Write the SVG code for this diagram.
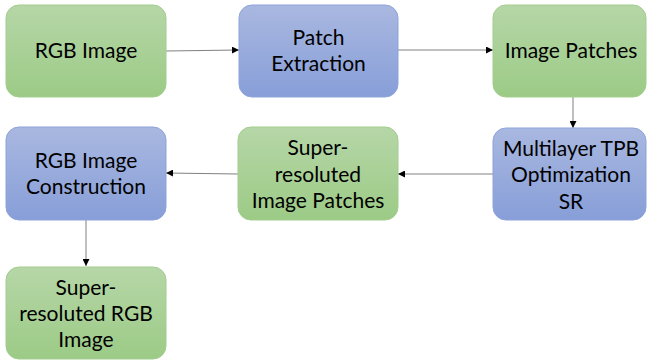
<svg xmlns="http://www.w3.org/2000/svg" width="648" height="363" viewBox="0 0 648 363">
  <defs>
    <linearGradient id="gGreen" x1="0" y1="0" x2="0" y2="1">
      <stop offset="0" stop-color="#b6d6a7"/>
      <stop offset="1" stop-color="#9ccb86"/>
    </linearGradient>
    <linearGradient id="gBlue" x1="0" y1="0" x2="0" y2="1">
      <stop offset="0" stop-color="#a9b8e0"/>
      <stop offset="1" stop-color="#879ed8"/>
    </linearGradient>
    <marker id="arrow" viewBox="0 0 10 10" refX="10" refY="5" markerWidth="7" markerHeight="7" markerUnits="userSpaceOnUse" orient="auto">
      <path d="M0,0 L10,5 L0,10 Z" fill="#000"/>
    </marker>
  </defs>
  <style>
    .green { fill: url(#gGreen); stroke: #a3cd8f; stroke-width: 1; }
    .blue { fill: url(#gBlue); stroke: #8ea3da; stroke-width: 1; }
    .label { font-family: "Lato", "Liberation Sans", sans-serif; font-size: 21px; fill: #000; text-anchor: middle; }
    .conn { stroke: #808080; stroke-width: 1; fill: none; marker-end: url(#arrow); }
  </style>
  <rect width="648" height="363" fill="#ffffff"/>

  <g id="connectors">
    <line class="conn" x1="166" y1="51" x2="239" y2="50"/>
    <line class="conn" x1="398" y1="50" x2="493" y2="50"/>
    <line class="conn" x1="573" y1="97" x2="573" y2="128"/>
    <line class="conn" x1="493" y1="174" x2="398" y2="174"/>
    <line class="conn" x1="238" y1="174" x2="166" y2="173"/>
    <line class="conn" x1="86" y1="220" x2="86" y2="266"/>
  </g>

  <g id="rgb-image">
    <rect class="green" x="6" y="5" width="160" height="92" rx="13"/>
    <text class="label" x="86" y="58">RGB Image</text>
  </g>

  <g id="patch-extraction">
    <rect class="blue" x="239" y="5" width="159" height="92" rx="13"/>
    <text class="label" x="318.5" y="45">Patch</text>
    <text class="label" x="318.5" y="71">Extraction</text>
  </g>

  <g id="image-patches">
    <rect class="green" x="493" y="5" width="153" height="92" rx="13"/>
    <text class="label" x="571" y="58">Image Patches</text>
  </g>

  <g id="multilayer-tpb">
    <rect class="blue" x="493" y="128" width="153" height="92" rx="13"/>
    <text class="label" x="571" y="156">Multilayer TPB</text>
    <text class="label" x="571" y="182">Optimization</text>
    <text class="label" x="571" y="209">SR</text>
  </g>

  <g id="sr-image-patches">
    <rect class="green" x="238" y="127" width="160" height="93" rx="13"/>
    <text class="label" x="318" y="155">Super-</text>
    <text class="label" x="318" y="182">resoluted</text>
    <text class="label" x="318" y="208">Image Patches</text>
  </g>

  <g id="rgb-construction">
    <rect class="blue" x="6" y="127" width="160" height="93" rx="13"/>
    <text class="label" x="86" y="168">RGB Image</text>
    <text class="label" x="86" y="194">Construction</text>
  </g>

  <g id="sr-rgb-image">
    <rect class="green" x="6" y="267" width="160" height="92" rx="13"/>
    <text class="label" x="86" y="295">Super-</text>
    <text class="label" x="86" y="321">resoluted RGB</text>
    <text class="label" x="86" y="347">Image</text>
  </g>
</svg>
